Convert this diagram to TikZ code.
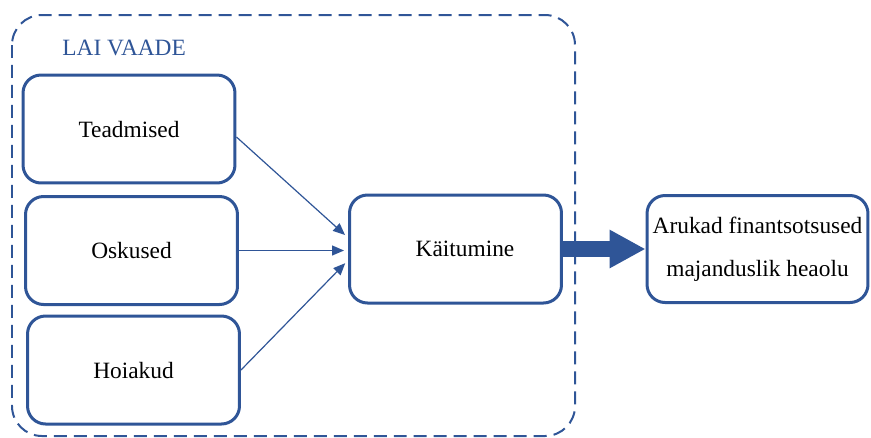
\documentclass[tikz,border=0pt]{standalone}
\usepackage{fontspec}
\setmainfont{Liberation Serif}
\newfontfamily\laiserif{Liberation Serif}
\usetikzlibrary{arrows.meta}
\definecolor{laiblue}{RGB}{47,85,151}
\begin{document}
\begin{tikzpicture}[x=0.02cm,y=-0.02cm,
  font=\laiserif\fontsize{13.3}{24.5}\selectfont,
  box/.style={draw=laiblue, line width=0.06cm, rounded corners=0.36cm,
    minimum width=4.24cm, minimum height=2.16cm, align=center, inner sep=0pt},
  thin/.style={draw=laiblue, line width=0.024cm, -{Triangle[length=0.24cm,width=0.2cm]}, shorten >=0.08cm},
  fat/.style={draw=laiblue, line width=0.32cm, -{Triangle[length=0.72cm,width=0.72cm]}}]
\useasboundingbox (0,0) rectangle (871,437);
% the wide view
\draw [laiblue, line width=0.04cm, dash pattern=on 0.26cm off 0.14cm, rounded corners=0.6cm] (12,15) rectangle (575,436);
\node [laiblue, anchor=base west, inner sep=0pt] (laivaade) at (62,55) {LAI VAADE};
% left boxes
\node [box] (teadmised) at (129,129) {Teadmised};
\node [box] (oskused) at (131.5,250.5) {Oskused};
\node [box] (hoiakud) at (133.5,370) {Hoiakud};
\node [box] (kaitumine) at (455.5,249) {\hspace*{0.38cm}Käitumine};
\node [box, minimum width=4.42cm, minimum height=2.14cm] (tulemus) at (757.5,249) {Arukad finantsotsused\\majanduslik heaolu};
% arrows
\draw [thin] ([yshift=-0.16cm]teadmised.east) -- (kaitumine.174);
\draw [thin] (oskused.east) -- (oskused.east -| kaitumine.west);
\draw [thin] (hoiakud.east) -- (kaitumine.186);
\draw [fat] (kaitumine.east) -- (tulemus.west);
\end{tikzpicture}
\end{document}
